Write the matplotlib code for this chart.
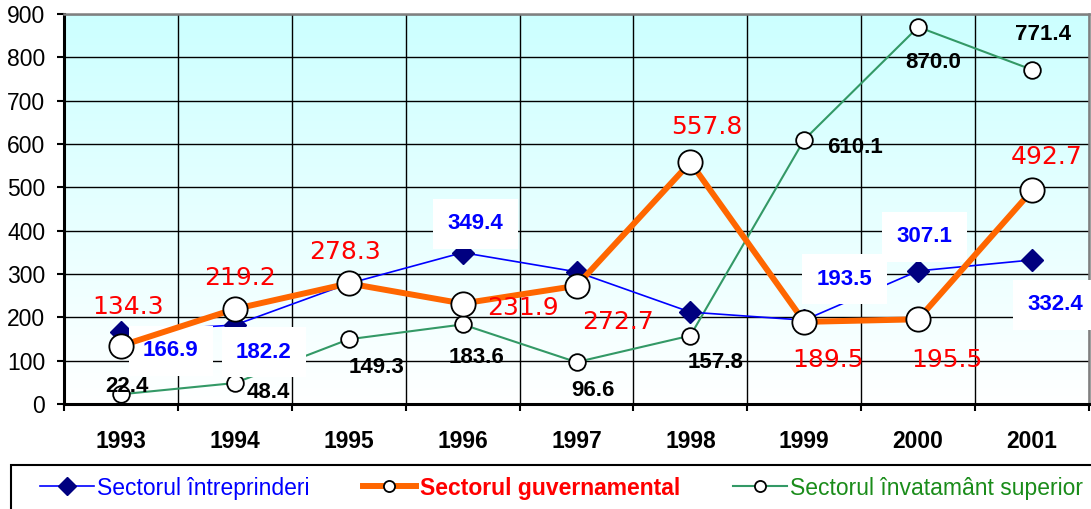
import numpy as np
import matplotlib
matplotlib.use("Agg")
from matplotlib import pyplot as plt
from matplotlib.colors import LinearSegmentedColormap
from matplotlib.lines import Line2D
from matplotlib.patches import Rectangle

plt.rcParams['font.family'] = ['Liberation Sans', 'DejaVu Sans']

years = ['1993', '1994', '1995', '1996', '1997', '1998', '1999', '2000', '2001']
intreprinderi = [166.9, 182.2, 278.0, 349.4, 305.0, 212.0, 193.5, 307.1, 332.4]
guvernamental = [134.3, 219.2, 278.3, 231.9, 272.7, 557.8, 189.5, 195.5, 492.7]
superior = [22.4, 48.4, 149.3, 183.6, 96.6, 157.8, 610.1, 870.0, 771.4]
names = ['Sectorul întreprinderi', 'Sectorul guvernamental', 'Sectorul învatamânt superior']

# label offsets in pixels (dx, dy) relative to each point
off_guv = [(7, 39), (5, 31), (-4, 31), (60, -4), (42, -36), (16, 35), (24, -38), (29, -41), (15, 33)]
off_sup = [(6, 8), (33, -9), (28, -28), (14, -33), (16, -28), (25, -27), (51, -8), (15, -36), (11, 35)]
off_intr = {0: (50, -19), 1: (29, -27), 3: (13, 29), 6: (40, 41), 7: (6, 34), 8: (23, -45)}

W, H = 1091, 509
fig = plt.figure(figsize=(W / 100, H / 100), dpi=100)
ax = fig.add_axes([64 / W, 1 - 404 / H, (1089 - 64) / W, (404 - 14) / H])

x = np.arange(len(years))

# background gradient
bg = LinearSegmentedColormap.from_list('bg', ['#FFFFFF', '#CCFFFF'])
ax.imshow(np.linspace(0, 1, 256).reshape(-1, 1), extent=[-0.5, 8.5, 0, 900],
          aspect='auto', cmap=bg, origin='lower', zorder=0)

ax.set_xlim(-0.5, 8.5)
ax.set_ylim(0, 900)
ax.set_yticks(range(0, 1000, 100))
ax.set_xticks(x)
ax.set_xticklabels(years, fontweight='bold', fontsize=16.5)
ax.set_xticks(np.arange(-0.5, 9, 1), minor=True)
ax.yaxis.grid(True, color='black', lw=1.0)
ax.xaxis.grid(True, which='minor', color='black', lw=1.0)

ax.tick_params(axis='x', which='major', length=0, pad=19)
ax.tick_params(axis='x', which='minor', length=5, width=1.5, direction='out')
ax.tick_params(axis='y', length=5, width=1.5, direction='out', pad=8.5, labelsize=16.5)

ax.spines['left'].set_linewidth(2.2)
ax.spines['bottom'].set_linewidth(2.2)
ax.spines['top'].set_color('#808080')
ax.spines['top'].set_linewidth(1.8)
ax.spines['right'].set_color('#808080')
ax.spines['right'].set_linewidth(1.8)

ax.plot(x, superior, color='#339966', lw=1.5, marker='o', ms=12,
        mfc='white', mec='black', mew=1.3, zorder=3)
ax.plot(x, intreprinderi, color='#0000FF', lw=1.2, marker='D', ms=11,
        mfc='#000080', mec='#000080', zorder=3.5)
ax.plot(x, guvernamental, color='#FF6600', lw=4.3, marker='o', ms=17.5,
        mfc='white', mec='black', mew=1.3, zorder=5)

for i, v in enumerate(guvernamental):
    ax.annotate(f'{v:.1f}', (i, v), xytext=off_guv[i], textcoords='offset pixels',
                ha='center', va='center', color='#FF0000', fontsize=18,
                family='DejaVu Sans', zorder=7)
for i, v in enumerate(superior):
    ax.annotate(f'{v:.1f}', (i, v), xytext=off_sup[i], textcoords='offset pixels',
                ha='center', va='center', color='black', fontsize=16,
                fontweight='bold', zorder=7)
for i, (dx, dy) in off_intr.items():
    ax.annotate(f'{intreprinderi[i]:.1f}', (i, intreprinderi[i]), xytext=(dx, dy),
                textcoords='offset pixels', ha='center', va='center', color='#0000FF',
                fontsize=16, fontweight='bold', zorder=4,
                bbox=dict(boxstyle='square,pad=0.65', fc='white', ec='none'))

# legend
handles = [
    Line2D([], [], color='#0000FF', lw=1.2, marker='D', ms=9, mfc='#000080', mec='#000080'),
    Line2D([], [], color='#FF6600', lw=4.3, marker='o', ms=8, mfc='white', mec='black', mew=1.3),
    Line2D([], [], color='#339966', lw=1.5, marker='o', ms=8, mfc='white', mec='black', mew=1.3),
]
leg = fig.legend(handles, names, loc='center left', bbox_to_anchor=(40 / W, 1 - 488 / H),
                 ncol=3, frameon=False, fontsize=16.5, handlelength=2.35, handletextpad=0.15,
                 columnspacing=2.3, borderpad=0, borderaxespad=0)
txts = leg.get_texts()
txts[0].set_color('#0000FF')
txts[1].set_color('#FF0000')
txts[1].set_fontweight('bold')
txts[2].set_color('#1A8C1A')

fig.patches.append(Rectangle((11 / W, -0.1), 1.2, 1 - 465 / H + 0.1,
                             transform=fig.transFigure, fill=False, ec='black', lw=1.5))

fig.savefig('out.png', dpi=100)
